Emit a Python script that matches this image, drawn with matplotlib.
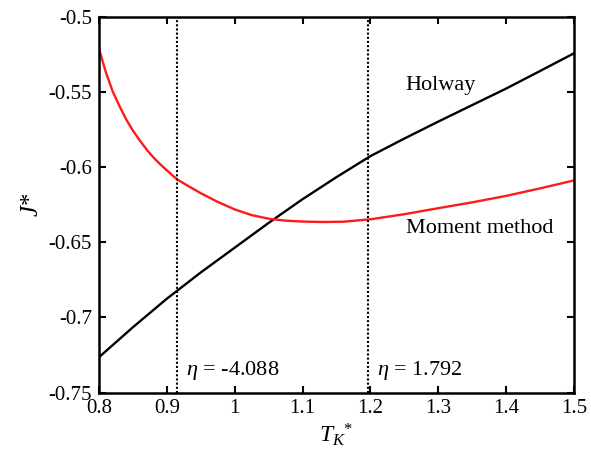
import matplotlib
matplotlib.use("Agg")
import matplotlib.pyplot as plt

plt.rcParams["font.family"] = ["Liberation Serif", "DejaVu Serif"]
plt.rcParams["mathtext.fontset"] = "custom"
plt.rcParams["mathtext.rm"] = "Liberation Serif"
plt.rcParams["mathtext.it"] = "Liberation Serif:italic"
plt.rcParams["mathtext.bf"] = "Liberation Serif:bold"

# Reduced temperature T_K*
t_holway = [0.80, 0.85, 0.90, 0.95, 1.00, 1.05, 1.10, 1.15, 1.20, 1.25, 1.30, 1.35, 1.40, 1.45, 1.50]
# J* from the Holway model
j_holway = [-0.7265, -0.7065, -0.6875, -0.6700, -0.6535, -0.6370, -0.6212, -0.6065, -0.5925,
            -0.5808, -0.5695, -0.5585, -0.5475, -0.5358, -0.5240]

t_moment = [0.80, 0.81, 0.82, 0.83, 0.84, 0.85, 0.86, 0.87, 0.88, 0.89, 0.90,
            0.915, 0.93, 0.95, 0.975, 1.00, 1.025, 1.05, 1.075, 1.10, 1.13, 1.16, 1.20,
            1.25, 1.30, 1.35, 1.40, 1.45, 1.50]
# J* from the moment method
j_moment = [-0.5210, -0.5365, -0.5492, -0.5590, -0.5680, -0.5755, -0.5820, -0.5880, -0.5933,
            -0.5978, -0.6020, -0.6080, -0.6120, -0.6172, -0.6230, -0.6280, -0.6318, -0.6342,
            -0.6355, -0.6361, -0.6364, -0.6362, -0.6346, -0.6312, -0.6272, -0.6233, -0.6190,
            -0.6140, -0.6087]

# Temperatures of the two marked eta values
eta_t = [0.915, 1.197]
eta_labels = [r"$\eta$ = -4.088", r"$\eta$ = 1.792"]

x_ticks = [0.8, 0.9, 1.0, 1.1, 1.2, 1.3, 1.4, 1.5]
x_tick_labels = ["0.8", "0.9", "1", "1.1", "1.2", "1.3", "1.4", "1.5"]
y_ticks = [-0.75, -0.7, -0.65, -0.6, -0.55, -0.5]
y_tick_labels = ["-0.75", "-0.7", "-0.65", "-0.6", "-0.55", "-0.5"]

fig = plt.figure(figsize=(5.91, 4.67), dpi=100)
ax = fig.add_axes([0.1675, 0.1595, 0.8037, 0.8035])

ax.plot(t_holway, j_holway, color="black", lw=1.7)
ax.plot(t_moment, j_moment, color="#ff1a1a", lw=1.7)

for t, lab in zip(eta_t, eta_labels):
    ax.axvline(t, color="black", lw=1.5, linestyle=(0, (1, 1)))
    ax.text(t + 0.013, -0.7353, lab, fontsize=16, va="center", ha="left")

ax.text(1.252, -0.5453, "Holway", fontsize=16, va="center", ha="left")
ax.text(1.252, -0.6407, "Moment method", fontsize=16, va="center", ha="left")

ax.set_xlim(0.8, 1.5)
ax.set_ylim(-0.75, -0.5)
ax.set_xticks(x_ticks)
ax.set_xticklabels(x_tick_labels)
ax.set_yticks(y_ticks)
ax.set_yticklabels(y_tick_labels)
ax.tick_params(direction="in", length=5, width=1.5, top=True, right=True,
               labelsize=15, pad=5)
for s in ax.spines.values():
    s.set_linewidth(1.8)

ax.set_xlabel(r"$T_K{}^{*}$", fontsize=17, labelpad=2)
ax.set_ylabel(r"$J$*", fontsize=18, labelpad=4)

fig.savefig("out.png", dpi=100)
